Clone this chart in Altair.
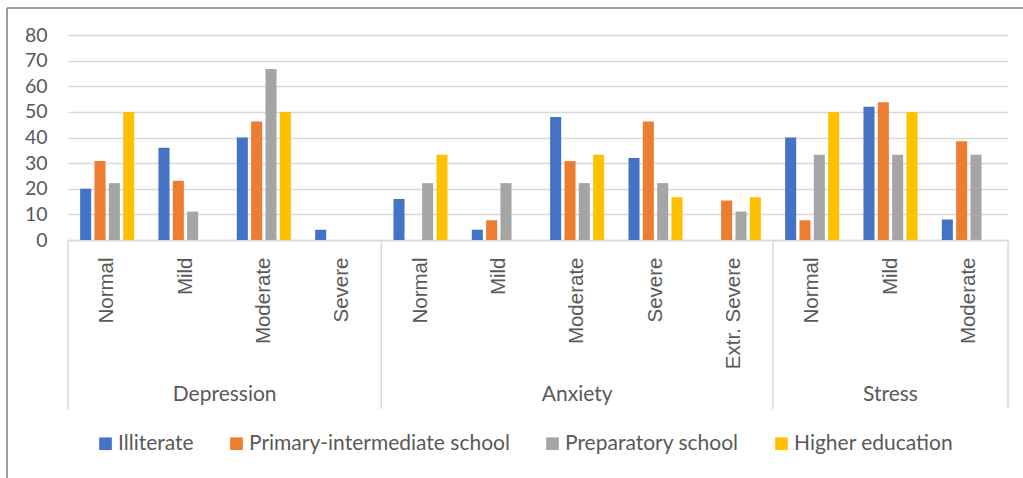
import altair as alt
import pandas as pd

groups = ["Depression", "Anxiety", "Stress"]
levels = [
    ["Normal", "Mild", "Moderate", "Severe"],
    ["Normal", "Mild", "Moderate", "Severe", "Extr. Severe"],
    ["Normal", "Mild", "Moderate"],
]
series = ["Illiterate", "Primary-intermediate school", "Preparatory school", "Higher education"]
colors = ["#4472C4", "#ED7D31", "#A5A5A5", "#FFC000"]

illiterate = [20, 36, 40, 4, 16, 4, 48, 32, 0, 40, 52, 8]
primary = [30.8, 23.1, 46.2, 0, 0, 7.7, 30.8, 46.2, 15.4, 7.7, 53.8, 38.5]
preparatory = [22.2, 11.1, 66.7, 0, 22.2, 22.2, 22.2, 22.2, 11.1, 33.3, 33.3, 33.3]
higher = [50, 0, 50, 0, 33.3, 0, 33.3, 16.7, 16.7, 50, 50, 0]
values = [illiterate, primary, preparatory, higher]

keys = []
for g, lv in zip(groups, levels):
    for l in lv:
        keys.append(f"{g}|{l}")

rows = []
for s, vals in zip(series, values):
    for k, v in zip(keys, vals):
        rows.append({"key": k, "series": s, "value": v})
df = pd.DataFrame(rows)

# group boundaries / centres in category units
bounds = [0]
for lv in levels:
    bounds.append(bounds[-1] + len(lv))
div_df = pd.DataFrame({"pos": bounds})
grp_df = pd.DataFrame({
    "pos": [(bounds[i] + bounds[i + 1]) / 2 for i in range(len(groups))],
    "label": groups,
})
n_cat = bounds[-1]

W, H = 940, 205
GRAY = "#595959"
FONT = "Lato"

bars = alt.Chart(df).mark_bar().encode(
    x=alt.X(
        "key:N",
        sort=keys,
        scale=alt.Scale(paddingInner=0.31, paddingOuter=0.155),
        axis=alt.Axis(
            title=None,
            labelExpr="split(datum.label, '|')[1]",
            labelAngle=-90,
            labelAlign="right",
            labelBaseline="middle",
            labelFont="Liberation Sans",
            labelFontSize=20.5,
            labelColor=GRAY,
            labelPadding=17,
            labelOverlap=False,
            labelLimit=300,
            ticks=False,
            domainColor="#d9d9d9",
            domainWidth=1.5,
            grid=False,
        ),
    ),
    xOffset=alt.XOffset("series:N", sort=series, scale=alt.Scale(paddingInner=0.23, paddingOuter=0)),
    y=alt.Y(
        "value:Q",
        scale=alt.Scale(domain=[0, 80], nice=False),
        axis=alt.Axis(
            title=None,
            values=list(range(0, 81, 10)),
            labelFont=FONT,
            labelFontSize=19.5,
            labelColor=GRAY,
            labelPadding=21,
            ticks=False,
            domain=False,
            gridColor="#d9d9d9",
            gridWidth=1.5,
        ),
    ),
    color=alt.Color(
        "series:N",
        sort=series,
        scale=alt.Scale(domain=series, range=colors),
        legend=alt.Legend(
            title=None,
            orient="none",
            legendX=27,
            legendY=398,
            direction="horizontal",
            symbolType="square",
            symbolSize=160,
            symbolStrokeWidth=0,
            labelFont=FONT,
            labelFontSize=21,
            labelColor=GRAY,
            labelOffset=2,
            columnPadding=32,
            labelLimit=400,
        ),
    ),
)

qx = alt.X("pos:Q", scale=alt.Scale(domain=[0, n_cat], nice=False, zero=False), axis=None)

dividers = alt.Chart(div_df).mark_rule(color="#d9d9d9", strokeWidth=1.5).encode(
    x=qx, y=alt.value(H), y2=alt.value(374)
)

grp_text = alt.Chart(grp_df).mark_text(
    font=FONT, fontSize=21, color=GRAY, baseline="middle", align="center"
).encode(x=qx, y=alt.value(360), text="label:N")

one = pd.DataFrame({"a": [0]})
border_top = alt.Chart(one).mark_rule(color="#7f7f7f", strokeWidth=1.5).encode(
    x=alt.value(-61), x2=alt.value(960), y=alt.value(-27)
)
border_left = alt.Chart(one).mark_rule(color="#7f7f7f", strokeWidth=1.5).encode(
    x=alt.value(-61), y=alt.value(-27), y2=alt.value(460)
)

chart = alt.layer(bars, dividers, grp_text, border_top, border_left).resolve_scale(
    x="independent"
).properties(
    width=W,
    height=H,
    autosize=alt.AutoSizeParams(type="none"),
    padding={"left": 68, "top": 35, "right": 15, "bottom": 238},
    background="white",
).configure_view(stroke=None)

chart.save("out.html", embed_options={"renderer": "svg", "actions": False})
